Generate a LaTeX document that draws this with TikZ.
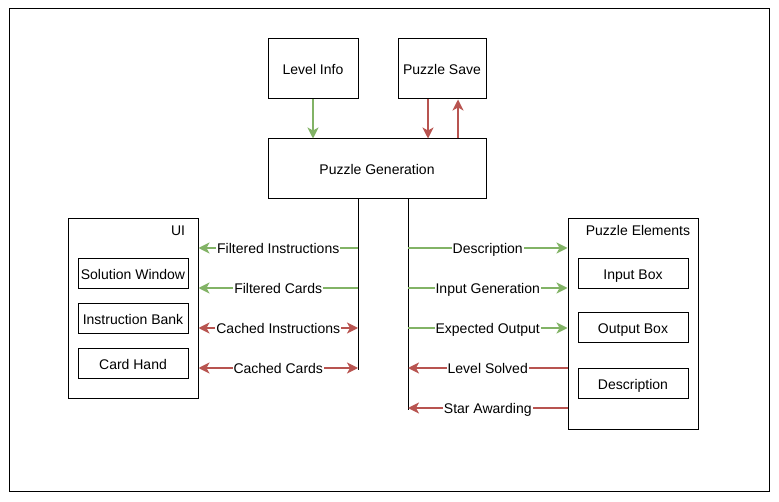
\documentclass[tikz,border=0pt]{standalone}
\usepackage{fontspec}
\setmainfont{Liberation Sans}
\usetikzlibrary{arrows.meta, positioning, calc}
\definecolor{flowgreen}{HTML}{82B366}
\definecolor{flowred}{HTML}{B85450}

\begin{document}
\begin{tikzpicture}[x=1pt, y=-1pt, font=\fontsize{14}{16}\selectfont, every node/.style={text height=11.5pt, text depth=0.5pt}]
    % Node Styles
    \tikzstyle{block} = [rectangle, draw, line width=1pt, minimum width=90pt, minimum height=60pt, inner sep=0pt]
    \tikzstyle{group} = [rectangle, draw, line width=1pt, minimum width=130pt, inner sep=0pt]
    \tikzstyle{part} = [rectangle, draw, line width=1pt, minimum width=110pt, minimum height=30pt, inner sep=0pt]
    \tikzstyle{flow} = [draw, line width=1.6pt, -{Stealth[length=11pt, width=11pt, inset=3pt]}]
    \tikzstyle{dual} = [flow, {Stealth[length=11pt, width=11pt, inset=3pt]}-{Stealth[length=11pt, width=11pt, inset=3pt]}]
    \tikzstyle{tag} = [fill=white, inner sep=1pt, text=black]
    \tikzstyle{bus} = [draw, line width=1pt]

    % Frame
    \useasboundingbox (0,0) rectangle (779,502);
    \draw[line width=1pt] (9,9) rectangle (769,491);

    % Sources
    \node [block] (info) at (313,69) {Level Info};
    \node [block, minimum width=88pt] (save) at (442,69) {Puzzle Save};
    \node [block, minimum width=218pt] (gen) at (377,169) {Puzzle Generation};

    % UI group
    \node [group, minimum height=180pt] (ui) at (133,309) {};
    \node [anchor=center] (uilabel) at (178,230) {UI};
    \node [part] (solution) at (133,274) {Solution Window};
    \node [part] (bank) at (133,319) {Instruction Bank};
    \node [part] (hand) at (133,364) {Card Hand};

    % Puzzle elements group
    \node [group, minimum height=210pt] (elems) at (633,324) {};
    \node [anchor=center] (elemlabel) at (638,230) {Puzzle Elements};
    \node [part] (inbox) at (633,274) {Input Box};
    \node [part] (outbox) at (633,328) {Output Box};
    \node [part] (descbox) at (633,384) {Description};

    % Buses
    \coordinate (busL) at (358,370);
    \coordinate (busR) at (408,410);
    \draw [bus] (gen.south -| busL) -- (busL);
    \draw [bus] (gen.south -| busR) -- (busR);

    % Rows
    \coordinate (r1) at (0,248);
    \coordinate (r2) at (0,288);
    \coordinate (r3) at (0,328);
    \coordinate (r4) at (0,368);
    \coordinate (r5) at (0,408);

    % Top arrows
    \path [flow, flowgreen] (info.south) -- (info.south |- gen.north);
    \path [flow, flowred] ($(save.south)+(-14,0)$) -- ($(save.south |- gen.north)+(-14,0)$);
    \path [flow, flowred] ($(save.south |- gen.north)+(16,0)$) -- ($(save.south)+(16,0)$);

    % Left arrows
    \path [flow, flowgreen] (busL |- r1) -- node [tag] {Filtered Instructions} (ui.east |- r1);
    \path [flow, flowgreen] (busL |- r2) -- node [tag] {Filtered Cards} (ui.east |- r2);
    \path [dual, flowred] (busL |- r3) -- node [tag] {Cached Instructions} (ui.east |- r3);
    \path [dual, flowred] (busL |- r4) -- node [tag] {Cached Cards} (ui.east |- r4);

    % Right arrows
    \path [flow, flowgreen] (busR |- r1) -- node [tag] {Description} (elems.west |- r1);
    \path [flow, flowgreen] (busR |- r2) -- node [tag] {Input Generation} (elems.west |- r2);
    \path [flow, flowgreen] (busR |- r3) -- node [tag] {Expected Output} (elems.west |- r3);
    \path [flow, flowred] (elems.west |- r4) -- node [tag] {Level Solved} (busR |- r4);
    \path [flow, flowred] (elems.west |- r5) -- node [tag] {Star Awarding} (busR |- r5);
\end{tikzpicture}
\end{document}
